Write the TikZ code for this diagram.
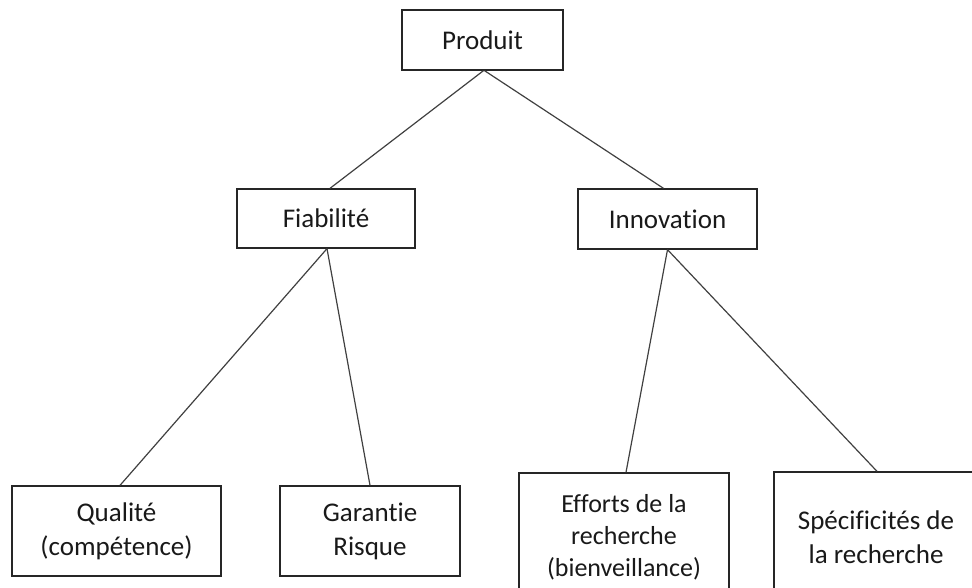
\documentclass[tikz,border=0pt]{standalone}
\usepackage{fontspec}
\setmainfont{Carlito}[Ligatures=NoCommon]
\begin{document}
\begin{tikzpicture}[x=1pt,y=-1pt,
  box/.style={draw=black!85, line width=1.3pt, align=center, inner sep=0pt, text=black!90,
    font=\fontsize{27}{34}\selectfont},
  link/.style={draw=black!75, line width=1.2pt}]
\useasboundingbox (0,0) rectangle (972,588);
\clip (0,0) rectangle (972,588);
\node[box, minimum width=161pt, minimum height=60pt] (prod) at (482.5,40) {Produit};
\node[box, minimum width=178pt, minimum height=59pt] (fia) at (326,218.5) {Fiabilité};
\node[box, minimum width=179pt, minimum height=60pt] (inn) at (667.5,219) {Innovation};
\node[box, minimum width=209pt, minimum height=90pt] (qua) at (116.5,531) {Qualité\\(compétence)};
\node[box, minimum width=180pt, minimum height=90pt] (gar) at (370,531) {Garantie\\Risque};
\node[box, minimum width=210pt, minimum height=128pt, font=\fontsize{26}{32}\selectfont] (eff) at (624,537) {Efforts de la\\recherche\\(bienveillance)};
\node[box, minimum width=204pt, minimum height=130pt] (spe) at (876,537) {Spécificités de\\la recherche};
\draw[link] ([xshift=1pt]prod.south) -- ([xshift=4pt]fia.north);
\draw[link] ([xshift=2pt]prod.south) -- ([xshift=-4pt]inn.north);
\draw[link] ([xshift=1pt]fia.south) -- ([xshift=3.5pt]qua.north);
\draw[link] ([xshift=1pt]fia.south) -- (gar.north);
\draw[link] (inn.south) -- ([xshift=2pt]eff.north);
\draw[link] (inn.south) -- ([xshift=1pt]spe.north);
\end{tikzpicture}
\end{document}
